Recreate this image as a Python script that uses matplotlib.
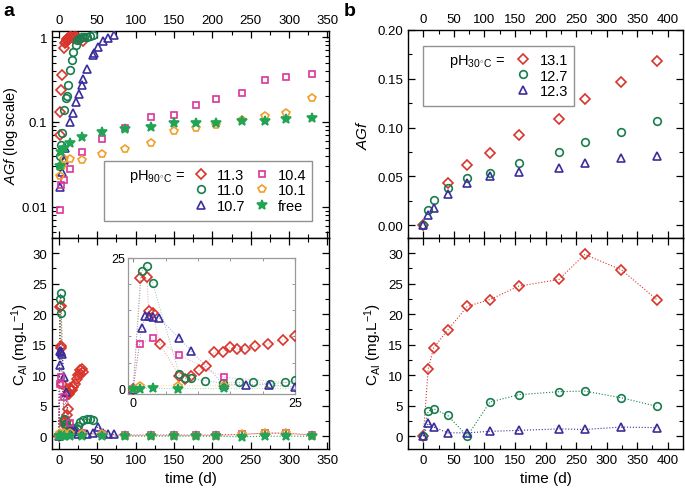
import numpy as np
import matplotlib
matplotlib.use("Agg")
import matplotlib.pyplot as plt
from matplotlib.lines import Line2D
from matplotlib.ticker import MultipleLocator, LogLocator, NullFormatter, FixedLocator

plt.rcParams['font.family'] = ['Liberation Sans', 'DejaVu Sans']
plt.rcParams['mathtext.fontset'] = 'custom'
plt.rcParams['mathtext.rm'] = 'Liberation Sans'
plt.rcParams['mathtext.it'] = 'Liberation Sans:italic'

# ---------------- Panel a : AGf (log) ----------------
a_labels = ['11.3', '11.0', '10.7', '10.4', '10.1', 'free']

r_agf_t = [1, 2, 3, 4, 7, 8, 9, 10, 11, 12, 13, 14, 16, 18, 20, 22, 25, 31]
r_agf = [0.07, 0.13, 0.24, 0.36, 0.75, 0.86, 0.88, 0.93, 0.95, 0.98, 0.96, 0.99, 1.0, 0.97, 0.99, 1.0, 0.98, 0.89]

g_agf_t = [1, 2, 3, 4, 6, 9, 10, 12, 15, 17, 19, 22, 24, 26, 28, 30, 33, 36, 40, 45]
g_agf = [0.03, 0.04, 0.053, 0.074, 0.139, 0.19, 0.2, 0.27, 0.41, 0.54, 0.67, 0.81, 0.92, 0.95, 0.98, 1.0, 1.0, 1.0, 1.02, 1.05]

b_agf_t = [2, 4, 6, 8, 14, 18, 22, 26, 30, 32, 37, 44, 46, 51, 58, 64, 72]
b_agf = [0.017, 0.026, 0.036, 0.05, 0.1, 0.127, 0.17, 0.215, 0.275, 0.32, 0.42, 0.62, 0.65, 0.77, 0.9, 0.97, 1.06]

p_agf_t = [1, 3, 6, 14, 30, 56, 86, 120, 150, 179, 205, 238, 269, 296, 330]
p_agf = [0.0092, 0.018, 0.021, 0.028, 0.044, 0.063, 0.086, 0.113, 0.122, 0.159, 0.186, 0.22, 0.31, 0.34, 0.37]

o_agf_t = [1, 4, 7, 14, 30, 56, 86, 120, 150, 179, 205, 238, 269, 296, 330]
o_agf = [0.023, 0.03, 0.037, 0.037, 0.036, 0.0416, 0.048, 0.056, 0.078, 0.085, 0.092, 0.106, 0.119, 0.128, 0.19]

s_agf_t = [1, 3, 7, 14, 30, 56, 86, 120, 150, 179, 205, 238, 269, 296, 330]
s_agf = [0.03, 0.044, 0.049, 0.057, 0.066, 0.077, 0.083, 0.088, 0.096, 0.098, 0.096, 0.104, 0.104, 0.109, 0.11]

# ---------------- Panel a : C_Al ----------------
r_c_t = [0, 1.1, 2.1, 2.4, 3, 4.1, 7.1, 8, 9, 10.2, 11.3, 12.5, 13.8, 14.9, 16.1, 17.3, 18.8, 20.9, 23.2, 25, 27, 28, 30, 31]
r_c = [0, 21.2, 21.3, 14.8, 14.5, 8.6, 2.5, 1.9, 2.5, 3.5, 4.4, 7.0, 7.0, 7.9, 7.6, 7.6, 8.1, 8.6, 9.4, 10.0, 10.2, 10.8, 11.1, 10.6]

g_c_t = [0, 1.3, 2.1, 3, 7.1, 8, 9, 11.1, 13.9, 16.3, 18.5, 21.2, 23.5, 25, 28, 32, 36, 40, 45]
g_c = [0, 22.5, 23.4, 20.2, 2.9, 2.0, 2.0, 1.5, 1.1, 1.2, 1.3, 0.9, 1.2, 1.6, 2.3, 2.7, 2.8, 2.8, 2.7]

b_c_t = [0, 1.3, 1.9, 2.5, 3, 4, 7.1, 8.9, 14, 17.5, 21, 25, 30, 37, 44, 51, 58, 64, 72]
b_c = [0, 11.6, 13.9, 13.9, 13.8, 13.5, 9.7, 7.3, 0.8, 0.8, 0.8, 0.3, 0.4, 0.3, 0.5, 1.5, 0.6, 0.4, 0.3]

p_c_t = [0, 1, 3.1, 7.1, 14, 30, 56, 86, 120, 150, 179, 205, 238, 269, 296, 330]
p_c = [0, 8.6, 9.7, 6.5, 2.2, 0.5, 0.3, 0.2, 0.2, 0.2, 0.2, 0.2, 0.3, 0.5, 0.5, 0.2]

o_c_t = [0, 1, 7, 14, 30, 56, 86, 120, 150, 179, 205, 238, 269, 296, 330]
o_c = [0, 0.6, 0.6, 0.6, 0.4, 0.3, 0.1, 0.1, 0.1, 0.1, 0.1, 0.3, 0.5, 0.5, 0.1]

s_c_t = [0, 1, 3, 7, 14, 30, 56, 86, 120, 150, 179, 205, 238, 269, 296, 330]
s_c = [0, 0, 0.1, 0, 0.1, 0, 0, 0, 0, 0, 0, 0, -0.1, 0, 0, 0]

# ---------------- Panel b ----------------
b_labels = ['13.1', '12.7', '12.3']
bt = [0, 8, 17, 40, 72, 109, 156, 222, 264, 324, 382]
bt_r_agf = [0, 40, 72, 109, 156, 222, 264, 324, 382]
b_r_agf = [0, 0.043, 0.0615, 0.0745, 0.0926, 0.109, 0.129, 0.147, 0.168]
b_g_agf = [0, 0.016, 0.026, 0.038, 0.048, 0.054, 0.064, 0.075, 0.085, 0.096, 0.107]
b_b_agf = [0, 0.011, 0.018, 0.032, 0.043, 0.050, 0.055, 0.059, 0.064, 0.069, 0.071]
b_r_c = [0, 11.0, 14.5, 17.4, 21.3, 22.4, 24.6, 25.7, 29.8, 27.3, 22.4]
b_g_c = [0, 4.1, 4.5, 3.4, 0.0, 5.6, 6.8, 7.3, 7.4, 6.3, 4.9]
b_b_c = [0, 2.1, 1.5, 0.55, 0.55, 0.8, 0.95, 1.2, 1.1, 1.5, 1.4]

RED = '#d9342b'
GREEN = '#1a7d4e'
BLUE = '#3b2e9c'
PINK = '#d9369b'
ORANGE = '#f0a02a'
STAR = '#22a455'

styles = [
    dict(marker='D', color=RED, ms=5.0, filled=False),
    dict(marker='o', color=GREEN, ms=5.5, filled=False),
    dict(marker='^', color=BLUE, ms=6.0, filled=False),
    dict(marker='s', color=PINK, ms=5.0, filled=False),
    dict(marker='p', color=ORANGE, ms=6.0, filled=False),
    dict(marker='*', color=STAR, ms=7.5, filled=True),
]

def mk(ax, x, y, st, line=False, lw=0.8, alpha=1.0, zorder=3):
    fc = st['color'] if st['filled'] else 'none'
    if line:
        ax.plot(x, y, linestyle=':', lw=lw, color=st['color'], alpha=alpha, zorder=zorder - 1)
    ax.plot(x, y, linestyle='none', marker=st['marker'],
            ms=st['ms'], mfc=fc, mec=st['color'], mew=1.2, zorder=zorder)

fig = plt.figure(figsize=(6.85, 4.89), dpi=100)
W, H = 685, 489
def rect(l, t, r, b):
    return [l / W, (H - b) / H, (r - l) / W, (b - t) / H]

ax1 = fig.add_axes(rect(52, 32, 329, 239))
ax2 = fig.add_axes(rect(52, 239, 329, 450))
ax3 = fig.add_axes(rect(408, 31, 683, 239))
ax4 = fig.add_axes(rect(408, 239, 683, 450))
axin = fig.add_axes(rect(128, 259, 295, 395))

for ax in (ax1, ax2, ax3, ax4):
    for s in ax.spines.values():
        s.set_linewidth(1.0)
    ax.tick_params(which='both', direction='in', top=True, right=True, labelsize=9.5)
    ax.tick_params(which='major', length=5, width=0.9)
    ax.tick_params(which='minor', length=3, width=0.8)

# panel a top
agf_sets = [(r_agf_t, r_agf), (g_agf_t, g_agf), (b_agf_t, b_agf),
            (p_agf_t, p_agf), (o_agf_t, o_agf), (s_agf_t, s_agf)]
for (t, v), st in zip(agf_sets, styles):
    mk(ax1, t, v, st)
ax1.set_yscale('log')
ax1.set_xlim(-9, 352)
ax1.set_ylim(0.0043, 1.18)
ax1.set_yticks([0.01, 0.1, 1])
ax1.set_yticklabels(['0.01', '0.1', '1'])
ax1.yaxis.set_minor_locator(LogLocator(base=10, subs=np.arange(2, 10)))
ax1.yaxis.set_minor_formatter(NullFormatter())
ax1.xaxis.set_major_locator(MultipleLocator(50))
ax1.xaxis.set_minor_locator(MultipleLocator(25))
ax1.tick_params(axis='x', labelbottom=False, labeltop=True)
ax1.set_ylabel(r'$\mathit{AGf}$ (log scale)', fontsize=10.5, labelpad=1)

handles = [Line2D([], [], linestyle='none', marker='none')] * 3
for st in styles:
    fc = st['color'] if st['filled'] else 'none'
    handles.append(Line2D([], [], linestyle='none', marker=st['marker'], color=st['color'],
                          ms=st['ms'], mfc=fc, mec=st['color'], mew=1.2))
labels = [r'pH$_{\rm 90^{\circ}C}$ =', '', ''] + a_labels
leg = ax1.legend(handles, labels, ncol=3, loc='lower right', bbox_to_anchor=(0.939, 0.082),
                 fontsize=10.5, frameon=True, fancybox=False, edgecolor='#777777',
                 handlelength=0.4, handletextpad=0.9, columnspacing=0.9,
                 labelspacing=0.12, borderpad=0.4, borderaxespad=0)
leg.get_frame().set_linewidth(1.0)

# panel a bottom
c_sets = [(r_c_t, r_c), (g_c_t, g_c), (b_c_t, b_c),
          (p_c_t, p_c), (o_c_t, o_c), (s_c_t, s_c)]
for (t, v), st in zip(c_sets, styles):
    mk(ax2, t, v, st, line=True, lw=0.8)
ax2.set_xlim(-9, 352)
ax2.set_ylim(-2.1, 32.5)
ax2.xaxis.set_major_locator(MultipleLocator(50))
ax2.xaxis.set_minor_locator(MultipleLocator(25))
ax2.yaxis.set_major_locator(MultipleLocator(5))
ax2.yaxis.set_minor_locator(MultipleLocator(2.5))
ax2.set_xlabel('time (d)', fontsize=11)
ax2.set_ylabel(r'$\mathrm{C_{Al}}$ (mg.L$^{-1}$)', fontsize=11, labelpad=1)

# inset
for (t, v), st in zip(c_sets, styles):
    mk(axin, t, v, st, line=True, lw=0.7, alpha=0.45)
axin.set_xlim(-0.8, 25)
axin.set_ylim(-1, 25)
for s in axin.spines.values():
    s.set_color('#999999')
    s.set_linewidth(0.9)
axin.xaxis.set_major_locator(FixedLocator([0, 25]))
axin.yaxis.set_major_locator(FixedLocator([0, 25]))
axin.xaxis.set_minor_locator(MultipleLocator(5))
axin.yaxis.set_minor_locator(MultipleLocator(5))
axin.tick_params(which='both', direction='in', top=True, right=True, labelsize=9,
                 color='#888888', pad=2)
axin.tick_params(which='major', length=3)
axin.tick_params(which='minor', length=2)
axin.set_facecolor('white')

# panel b top
b_agf_sets = [(bt_r_agf, b_r_agf), (bt, b_g_agf), (bt, b_b_agf)]
b_c_sets = [b_r_c, b_g_c, b_b_c]
for (t, v), st in zip(b_agf_sets, styles[:3]):
    mk(ax3, t, v, st)
ax3.set_xlim(-25, 425)
ax3.set_ylim(-0.013, 0.20)
ax3.xaxis.set_major_locator(MultipleLocator(50))
ax3.xaxis.set_minor_locator(MultipleLocator(25))
ax3.yaxis.set_major_locator(MultipleLocator(0.05))
ax3.yaxis.set_minor_locator(MultipleLocator(0.025))
ax3.yaxis.set_major_formatter(matplotlib.ticker.FormatStrFormatter('%.2f'))
ax3.tick_params(axis='x', labelbottom=False, labeltop=True)
ax3.set_ylabel(r'$\mathit{AGf}$', fontsize=11, labelpad=5)

hb = [Line2D([], [], linestyle='none', marker='none')] * 3
for st in styles[:3]:
    hb.append(Line2D([], [], linestyle='none', marker=st['marker'], color=st['color'],
                     ms=st['ms'], mfc='none', mec=st['color'], mew=1.2))
lb = [r'pH$_{\rm 30^{\circ}C}$ =', '', ''] + b_labels
legb = ax3.legend(hb, lb, ncol=2, loc='upper left', bbox_to_anchor=(0.055, 0.923),
                  fontsize=10.5, frameon=True, fancybox=False, edgecolor='#777777',
                  handlelength=0.4, handletextpad=1.0, columnspacing=1.0,
                  labelspacing=0.12, borderpad=0.4, borderaxespad=0)
legb.get_frame().set_linewidth(1.0)

# panel b bottom
for v, st in zip(b_c_sets, styles[:3]):
    mk(ax4, bt, v, st, line=True, lw=0.8)
ax4.set_xlim(-25, 425)
ax4.set_ylim(-2.1, 32.5)
ax4.xaxis.set_major_locator(MultipleLocator(50))
ax4.xaxis.set_minor_locator(MultipleLocator(25))
ax4.yaxis.set_major_locator(MultipleLocator(5))
ax4.yaxis.set_minor_locator(MultipleLocator(2.5))
ax4.set_xlabel('time (d)', fontsize=11)
ax4.set_ylabel(r'$\mathrm{C_{Al}}$ (mg.L$^{-1}$)', fontsize=11, labelpad=3)

fig.text(3 / W, 1 - 16 / H, 'a', fontsize=14, fontweight='bold')
fig.text(344 / W, 1 - 16 / H, 'b', fontsize=14, fontweight='bold')

fig.savefig('out.png', dpi=100)
